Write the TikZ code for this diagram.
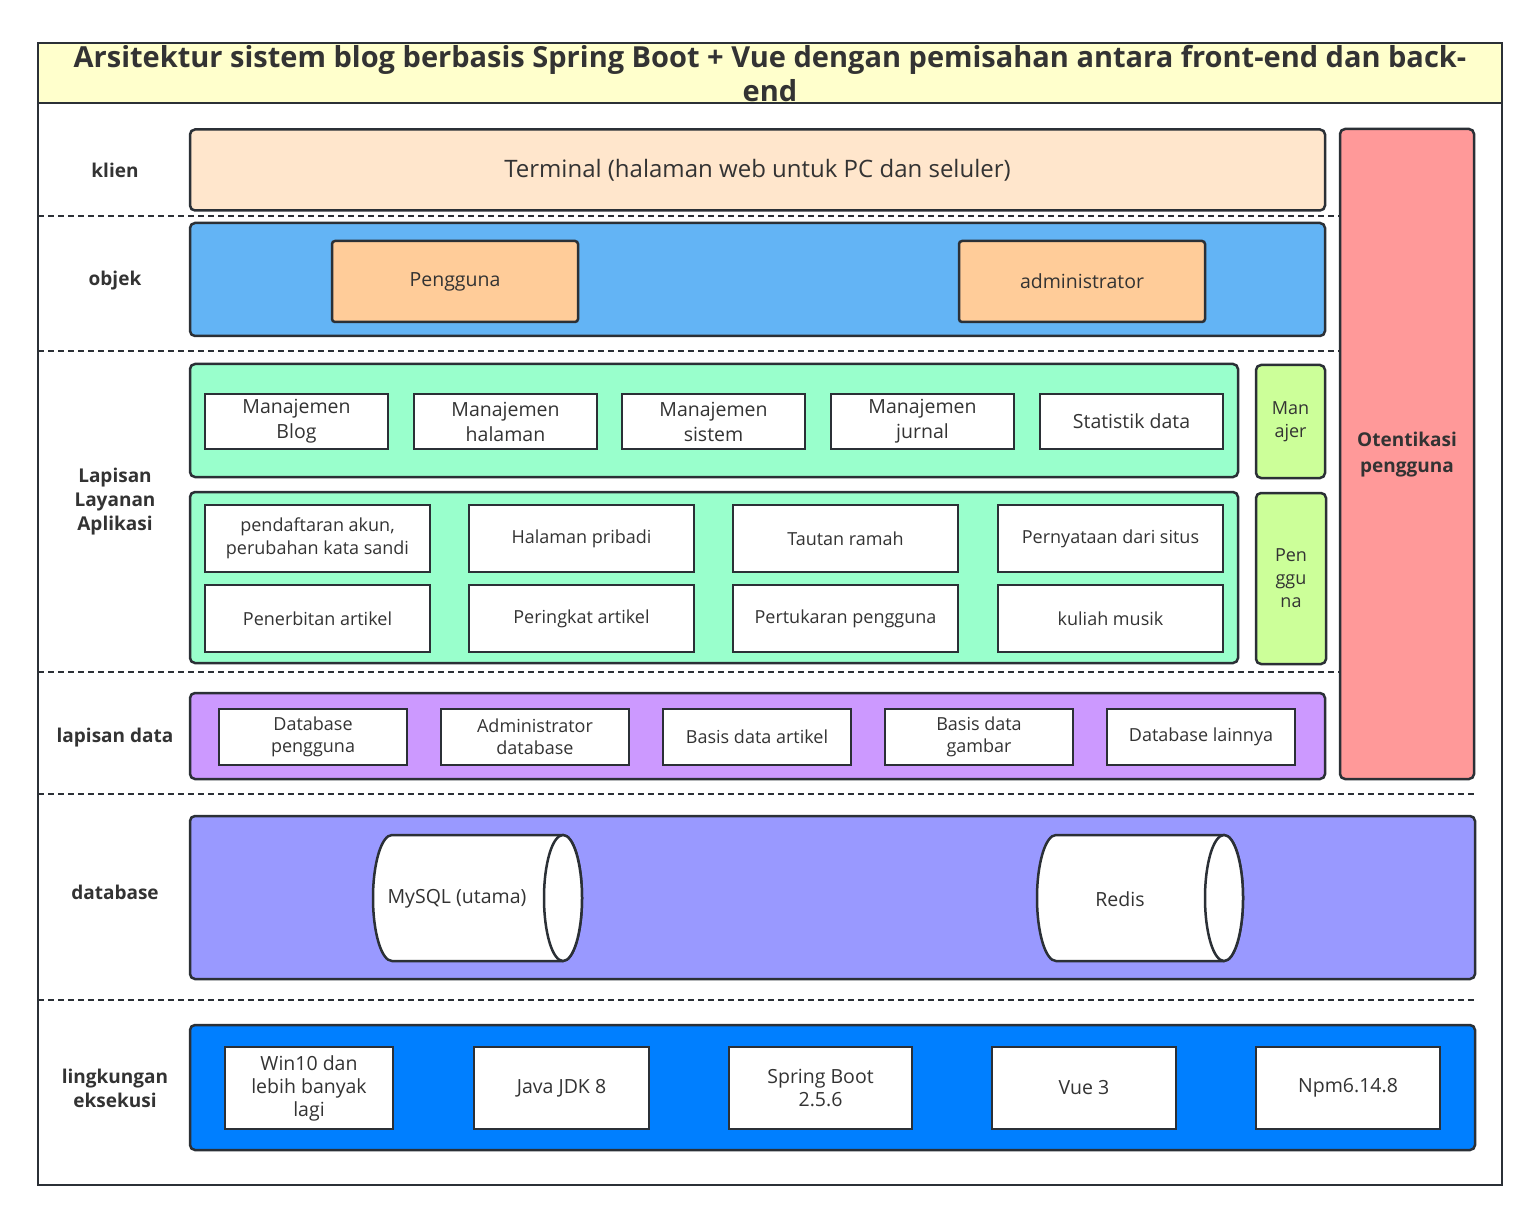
\documentclass[tikz,border=0pt]{standalone}
\usepackage{fontspec}
\setmainfont{Open Sans}
\definecolor{ink}{HTML}{2B3036}
\definecolor{txt}{HTML}{333333}
\definecolor{titlefill}{HTML}{FFFFCC}
\definecolor{clientfill}{HTML}{FFE6CC}
\definecolor{objfill}{HTML}{63B4F5}
\definecolor{rolefill}{HTML}{FFCC99}
\definecolor{authfill}{HTML}{FF9999}
\definecolor{svcfill}{HTML}{99FFCC}
\definecolor{tagfill}{HTML}{CCFF99}
\definecolor{datafill}{HTML}{CC99FF}
\definecolor{dbfill}{HTML}{9999FF}
\definecolor{envfill}{HTML}{007FFF}
\tikzset{panel/.style={draw=ink, line width=2.5pt, rounded corners=5pt, inner sep=0pt, align=center, text=txt},
  item/.style={draw=ink, line width=2.5pt, fill=white, inner sep=0pt, align=center, text=txt},
  rowlabel/.style={align=center, text=txt, font=\bfseries\fontsize{19}{24}\selectfont},
  rowsep/.style={draw=ink, line width=1.5pt, dash pattern=on 6pt off 4pt},
  drum/.style={draw=ink, line width=2.5pt, fill=white}}
% drum: left x, right x (y from 835 to 961)
\newcommand{\drumshape}[2]{%
  \draw[drum] (#1+19,835) -- (#2-19,835) arc (90:-90:19pt and 63pt) -- (#1+19,961) arc (270:90:19pt and 63pt) -- cycle;
  \draw[drum] (#2-19,898) ellipse (19pt and 63pt);}

\begin{document}
\begin{tikzpicture}[x=1pt,y=-1pt]
\useasboundingbox (0,0) rectangle (1539,1222);

\fill[titlefill] (38,43) rectangle (1502,103);
\draw[ink, line width=2pt] (38,103) -- (1502,103);
\draw[ink, line width=2pt] (38,43) rectangle (1502,1185);
\node[align=center, text=txt, font=\bfseries\fontsize{29}{34}\selectfont] (title) at (770,74)
  {Arsitektur sistem blog berbasis Spring Boot + Vue dengan pemisahan antara front-end dan back-\\end};

\draw[rowsep] (38,216) -- (1340,216);
\draw[rowsep] (38,351) -- (1340,351);
\draw[rowsep] (38,672) -- (1340,672);
\draw[rowsep] (38,794) -- (1475,794);
\draw[rowsep] (38,1000) -- (1475,1000);

\node[rowlabel] (lklien) at (115,170) {klien};
\node[rowlabel] (lobjek) at (115,281) {objek};
\node[rowlabel] (llayanan) at (115,502) {Lapisan\\Layanan\\Aplikasi};
\node[rowlabel] (ldata) at (115,738) {lapisan data};
\node[rowlabel] (ldb) at (115,892) {database};
\node[rowlabel] (lenv) at (115,1088) {lingkungan\\eksekusi};

% klien dan objek
\node[panel, fill=clientfill, minimum width=1135pt, minimum height=81pt, font=\fontsize{24}{29}\selectfont] (terminal) at (757.5,170) {Terminal (halaman web untuk PC dan seluler)};
\node[panel, fill=objfill, minimum width=1135pt, minimum height=113pt] (objek) at (757.5,279.5) {};
\node[panel, fill=rolefill, rounded corners=3pt, minimum width=246pt, minimum height=81pt, font=\fontsize{19.5}{23}\selectfont] (pengguna) at (455,281.5) {Pengguna};
\node[panel, fill=rolefill, rounded corners=3pt, minimum width=246pt, minimum height=81pt, font=\fontsize{19.5}{23}\selectfont] (admin) at (1082,281.5) {administrator};
\node[panel, fill=authfill, minimum width=134pt, minimum height=650pt] (auth) at (1407,454) {};
\node[align=center, text=txt, font=\bfseries\fontsize{19}{26}\selectfont] (authtext) at (1407,455) {Otentikasi\\pengguna};

% lapisan layanan
\node[panel, fill=svcfill, minimum width=1048pt, minimum height=113pt] (mgrpanel) at (714,420.5) {};
\foreach \x/\t [count=\i] in {296.5/Manajemen\\Blog, 505.5/Manajemen\\halaman, 713.5/Manajemen\\sistem, 922.5/Manajemen\\jurnal, 1131.5/Statistik data}
  \node[item, minimum width=183pt, minimum height=55pt, font=\fontsize{19.5}{25}\selectfont] (mgr\i) at (\x,421.5) {\t};
\node[panel, fill=tagfill, minimum width=69pt, minimum height=113pt, font=\fontsize{18}{23}\selectfont] (manajer) at (1290.5,421.5) {Man\\ajer};

\node[panel, fill=svcfill, minimum width=1048pt, minimum height=171pt] (usrpanel) at (714,577.5) {};
\foreach \x/\t [count=\i] in {317.5/{pendaftaran akun,\\perubahan kata sandi}, 581.5/Halaman pribadi, 845.5/Tautan ramah, 1110.5/Pernyataan dari situs}
  \node[item, minimum width=225pt, minimum height=67pt, font=\fontsize{18}{23}\selectfont] (usra\i) at (\x,538.5) {\t};
\foreach \x/\t [count=\i] in {317.5/Penerbitan artikel, 581.5/Peringkat artikel, 845.5/Pertukaran pengguna, 1110.5/kuliah musik}
  \node[item, minimum width=225pt, minimum height=67pt, font=\fontsize{18}{23}\selectfont] (usrb\i) at (\x,618.5) {\t};
\node[panel, fill=tagfill, minimum width=70pt, minimum height=171pt, font=\fontsize{18}{23}\selectfont] (penggunatag) at (1291,578.5) {Pen\\ggu\\na};

% lapisan data
\node[panel, fill=datafill, minimum width=1135pt, minimum height=86pt] (datapanel) at (757.5,736) {};
\foreach \x/\t [count=\i] in {313/Database\\pengguna, 535/Administrator\\database, 757/Basis data artikel, 979/Basis data\\gambar, 1201/Database lainnya}
  \node[item, minimum width=188pt, minimum height=56pt, font=\fontsize{18}{22}\selectfont] (data\i) at (\x,737) {\t};

% database
\node[panel, fill=dbfill, minimum width=1285pt, minimum height=163pt] (dbpanel) at (832.5,897.5) {};
\drumshape{373}{582}
\drumshape{1037}{1243}
\node[text=txt, font=\fontsize{19.5}{23}\selectfont] (mysql) at (457,899) {MySQL (utama)};
\node[text=txt, font=\fontsize{19.5}{23}\selectfont] (redis) at (1120,899) {Redis};

% lingkungan eksekusi
\node[panel, fill=envfill, minimum width=1285pt, minimum height=125pt] (envpanel) at (832.5,1087.5) {};
\foreach \x/\w/\t [count=\i] in {309/168/Win10 dan\\lebih banyak\\lagi, 561.5/175/Java JDK 8, 820.5/183/Spring Boot\\2.5.6, 1084/184/Vue 3, 1348/184/Npm6.14.8}
  \node[item, minimum width=\w pt, minimum height=82pt, font=\fontsize{19.5}{23}\selectfont] (env\i) at (\x,1088) {\t};

\end{tikzpicture}
\end{document}
